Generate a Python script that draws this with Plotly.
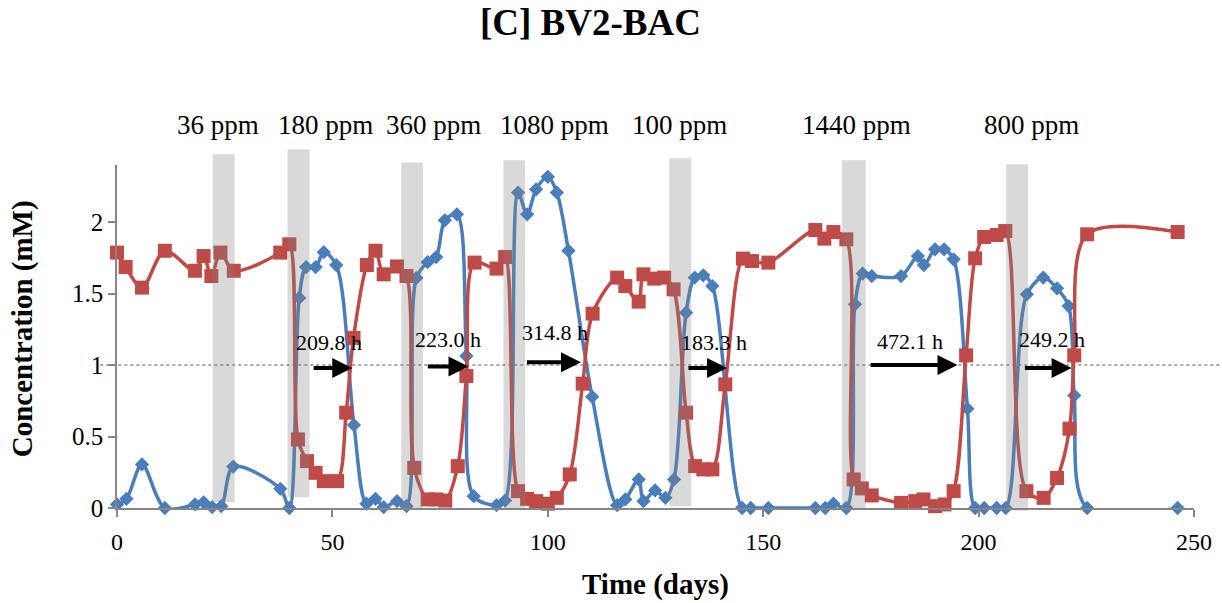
import plotly.graph_objects as go

# ---- data ----
blue_days = [0, 2.2, 5.8, 11.1, 18.1, 20.1, 22.1, 24.2, 27.0, 37.9, 40.0, 42.3, 43.9, 46.1, 48.0,
             50.9, 55.0, 57.9, 60.0, 61.9, 65.0, 67.2, 69.5, 72.1, 74.1, 76.1, 78.9, 81.1, 82.8,
             88.1, 90.1, 93.1, 95.2, 97.3, 100.0, 102.1, 104.8, 110.3, 116.1, 118.0, 121.1, 122.2,
             124.9, 127.3, 129.3, 132.1, 134.1, 136.1, 138.2, 145.1, 147.1, 151.2, 162.1, 164.4,
             166.3, 169.3, 171.3, 173.1, 175.2, 182.0, 185.9, 187.3, 189.9, 192.0, 194.2, 197.4,
             199.2, 201.3, 204.2, 206.3, 211.2, 215.0, 218.2, 220.9, 222.2, 225.2, 246.2]
blue_conc = [0.025, 0.064, 0.305, 0.0, 0.025, 0.04, 0.006, 0.013, 0.29, 0.134, 0.0, 1.47, 1.686, 1.686, 1.79,
             1.70, 0.58, 0.03, 0.064, 0.006, 0.048, 0.013, 1.61, 1.72, 1.756, 2.013, 2.055, 1.063, 0.083,
             0.02, 0.052, 2.207, 2.055, 2.23, 2.317, 2.207, 1.80, 0.778, 0.02, 0.06, 0.2, 0.048,
             0.123, 0.071, 0.2, 1.367, 1.612, 1.628, 1.553, 0.0, 0.0, 0.0, 0.0, 0.0,
             0.03, 0.0, 1.425, 1.64, 1.623, 1.623, 1.763, 1.70, 1.81, 1.81, 1.74, 0.695,
             0.0, 0.0, 0.0, 0.0, 1.495, 1.612, 1.537, 1.413, 0.788, 0.0, 0.0]

red_days = [0, 2.0, 5.8, 11.1, 18.1, 20.1, 21.9, 24.0, 27.1, 37.9, 40.0, 42.0, 44.1, 46.1, 48.0,
            51.1, 53.2, 54.9, 58.0, 60.0, 61.9, 65.0, 67.2, 69.0, 72.1, 74.1, 76.2, 79.1, 81.1,
            83.0, 88.1, 90.1, 93.1, 95.2, 97.3, 100.0, 102.1, 105.1, 108.1, 110.4, 116.1, 118.0,
            121.1, 122.2, 124.7, 127.0, 129.2, 132.1, 134.2, 136.1, 138.2, 141.2, 145.3, 147.4,
            151.2, 162.1, 164.2, 166.3, 169.3, 171.0, 172.9, 175.2, 182.0, 185.3, 187.2, 189.9,
            192.1, 194.2, 197.1, 199.2, 201.3, 204.2, 206.2, 211.1, 215.1, 218.2, 221.1, 222.2,
            225.2, 246.2]
red_conc = [1.787, 1.686, 1.542, 1.80, 1.66, 1.763, 1.623, 1.787, 1.66, 1.787, 1.845, 0.48, 0.328, 0.246, 0.188,
            0.188, 0.667, 1.19, 1.70, 1.80, 1.635, 1.69, 1.623, 0.281, 0.06, 0.06, 0.052, 0.293, 0.923,
            1.717, 1.675, 1.756, 0.118, 0.064, 0.048, 0.03, 0.071, 0.235, 0.87, 1.36, 1.612, 1.553,
            1.444, 1.635, 1.605, 1.612, 1.53, 0.667, 0.293, 0.27, 0.27, 0.865, 1.745, 1.728,
            1.717, 1.945, 1.885, 1.931, 1.88, 0.2, 0.137, 0.088, 0.036, 0.048, 0.06, 0.013,
            0.025, 0.118, 1.068, 1.747, 1.896, 1.91, 1.938, 0.118, 0.071, 0.21, 0.555, 1.068,
            1.915, 1.931]

# dosing periods (grey bands): start/end day, bottom/top concentration
band_start = [22.2, 39.6, 66.0, 89.7, 128.2, 168.3, 206.4]
band_end = [27.3, 44.7, 71.0, 94.7, 133.3, 173.8, 211.5]
band_bottom = [0.04, 0.076, -0.01, -0.01, 0.013, -0.01, -0.02]
band_top = [2.476, 2.51, 2.417, 2.433, 2.447, 2.433, 2.405]

dose_labels = ["36 ppm", "180 ppm", "360 ppm", "1080 ppm", "100 ppm", "1440 ppm", "800 ppm"]
dose_label_day = [23.5, 48.4, 73.4, 101.5, 130.5, 171.6, 212.2]

# breakthrough arrows
arrow_labels = ["209.8 h", "223.0 h", "314.8 h", "183.3 h", "472.1 h", "249.2 h"]
arrow_start = [45.3, 71.8, 94.8, 132.3, 174.6, 210.4]
arrow_end = [54.6, 81.6, 107.7, 141.6, 195.1, 221.6]
arrow_level = [0.98, 0.99, 1.02, 0.98, 1.0, 0.98]
arrow_label_day = [49.1, 76.9, 101.6, 138.5, 184.0, 217.1]
arrow_label_level = [1.16, 1.18, 1.23, 1.157, 1.168, 1.18]

YMAX = 2.4
FONT = "Liberation Serif"
BLUE = "#4A7EBB"
RED = "#BE4B48"
AXIS = "#868686"

fig = go.Figure()
fig.add_trace(go.Scatter(x=blue_days, y=blue_conc, mode="lines+markers",
                         line=dict(color=BLUE, width=3.5, shape="spline", smoothing=0.9),
                         marker=dict(symbol="diamond", size=11, color=BLUE),
                         cliponaxis=False, showlegend=False))
fig.add_trace(go.Scatter(x=red_days, y=red_conc, mode="lines+markers",
                         line=dict(color=RED, width=3.5, shape="spline", smoothing=0.9),
                         marker=dict(symbol="square", size=14, color=RED),
                         cliponaxis=False, showlegend=False))

shapes = []
for s, e, b, t in zip(band_start, band_end, band_bottom, band_top):
    shapes.append(dict(type="rect", xref="x", yref="paper", x0=s, x1=e,
                       y0=b / YMAX, y1=t / YMAX, line=dict(width=0),
                       fillcolor="rgba(128,128,128,0.3)", layer="above"))
# dotted reference line at 1 mM
shapes.append(dict(type="line", xref="paper", yref="y", x0=-0.0155, x1=1.024, y0=1, y1=1,
                   line=dict(color="#8C8C8C", width=1.5, dash="dot"), layer="below"))

annotations = []
for lab, d in zip(dose_labels, dose_label_day):
    annotations.append(dict(text=lab, x=d, xref="x", y=1.1165, yref="paper",
                            showarrow=False, xanchor="center", yanchor="middle",
                            font=dict(family=FONT, size=27, color="black")))
for s, e, lvl in zip(arrow_start, arrow_end, arrow_level):
    annotations.append(dict(text="", x=e, y=lvl, xref="x", yref="y", ax=s, ay=lvl,
                            axref="x", ayref="y", showarrow=True, arrowhead=2,
                            arrowsize=1.0, arrowwidth=4, arrowcolor="black", standoff=0))
for lab, d, lvl in zip(arrow_labels, arrow_label_day, arrow_label_level):
    annotations.append(dict(text=lab, x=d, y=lvl, xref="x", yref="y", showarrow=False,
                            xanchor="center", yanchor="middle",
                            font=dict(family=FONT, size=22, color="black")))
# title and axis titles
annotations.append(dict(text="<b>[C] BV2-BAC</b>", x=(590.5 - 116.5) / 1077.5, xref="paper",
                        y=(508.5 - 22) / 343.5, yref="paper", showarrow=False,
                        xanchor="center", yanchor="middle",
                        font=dict(family=FONT, size=37, color="black")))
annotations.append(dict(text="<b>Time (days)</b>", x=0.5, xref="paper",
                        y=(508.5 - 585) / 343.5, yref="paper", showarrow=False,
                        xanchor="center", yanchor="middle",
                        font=dict(family=FONT, size=29, color="black")))
annotations.append(dict(text="<b>Concentration (mM)</b>", x=(22 - 116.5) / 1077.5, xref="paper",
                        y=(508.5 - 329) / 343.5, yref="paper", showarrow=False, textangle=-90,
                        xanchor="center", yanchor="middle",
                        font=dict(family=FONT, size=29, color="black")))

fig.update_layout(
    width=1222, height=603,
    margin=dict(l=116.5, r=28, t=165, b=94.5, pad=0),
    paper_bgcolor="white", plot_bgcolor="white",
    shapes=shapes, annotations=annotations, showlegend=False,
    xaxis=dict(range=[0, 250], dtick=50, tick0=0, showgrid=False, zeroline=False,
               showline=True, linecolor=AXIS, linewidth=1.5, ticks="outside",
               ticklen=7, tickcolor=AXIS, tickwidth=1.5, automargin=False,
               ticklabelstandoff=4,
               tickfont=dict(family=FONT, size=24, color="black")),
    yaxis=dict(range=[0, YMAX], dtick=0.5, tick0=0, showgrid=False, zeroline=False,
               showline=True, linecolor=AXIS, linewidth=1.5, ticks="outside",
               ticklen=7, tickcolor=AXIS, tickwidth=1.5, automargin=False,
               tickfont=dict(family=FONT, size=25, color="black")),
)

fig.write_html("out.html")
